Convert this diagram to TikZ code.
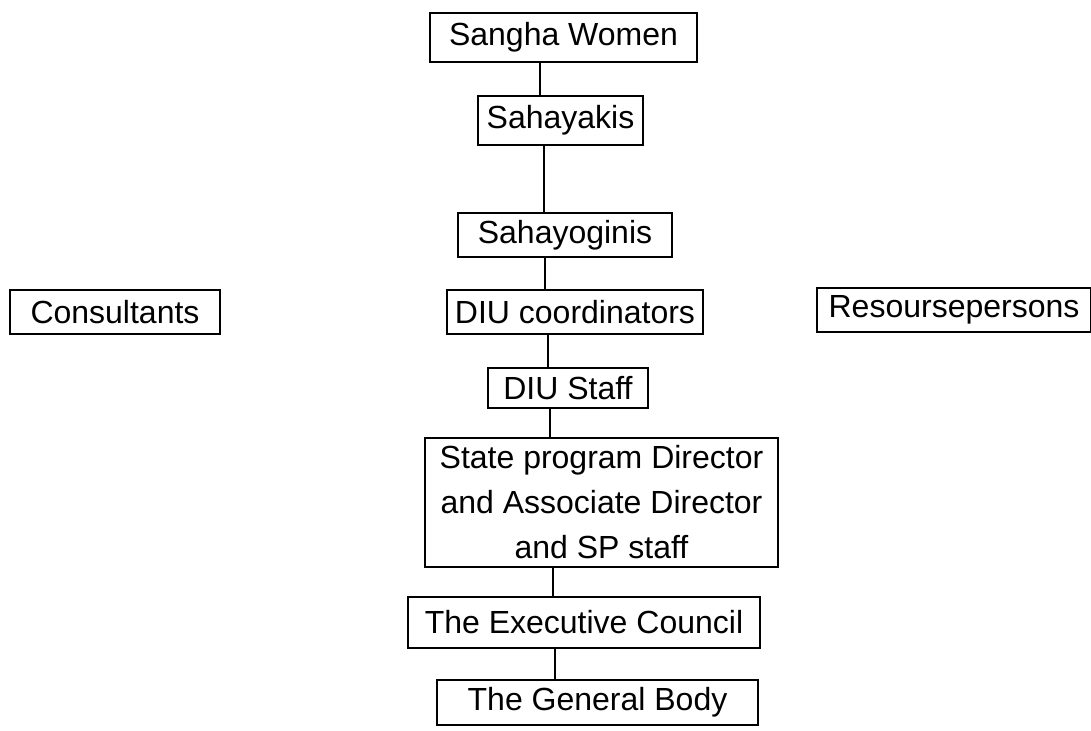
\documentclass[tikz,border=0pt]{standalone}
\usepackage{fontspec}
\setmainfont{Liberation Sans}
\newcommand{\unitfont}{\fontsize{16}{22.5}\selectfont}
\tikzset{
  unit/.style={draw, line width=1.2pt, inner sep=0pt, align=center, font=\unitfont},
  link/.style={line width=1.2pt}
}

\begin{document}
\begin{tikzpicture}[x=0.5pt,y=-0.5pt]
        \useasboundingbox (0,0) rectangle (1091,731);
        \node[unit, minimum width=133.5pt, minimum height=24.5pt] (sangha) at (563.5,37.5) {Sangha Women};
        \node[unit, minimum width=82.5pt, minimum height=24.5pt] (sahayakis) at (560.5,120.5) {Sahayakis};
        \node[unit, minimum width=107pt, minimum height=22pt] (sahayoginis) at (565,235) {Sahayoginis};
        \node[unit, minimum width=128pt, minimum height=22pt] (diucoord) at (575,312) {DIU coordinators};
        \node[unit, minimum width=105pt, minimum height=22pt] (consult) at (115,312) {Consultants};
        \node[unit, minimum width=137pt, minimum height=22pt] (resource) at (954,310) {Resoursepersons};
        \node[unit, minimum width=80pt, minimum height=20pt] (diustaff) at (568,388) {DIU Staff};
        \node[unit, minimum width=176.5pt, minimum height=64.5pt] (state) at (601.5,502.5) {State program Director\\and Associate Director\\and SP staff};
        \node[unit, minimum width=176pt, minimum height=25.5pt] (exec) at (584,622.5) {The Executive Council};
        \node[unit, minimum width=160.5pt, minimum height=22.5pt] (general) at (597.5,702.5) {The General Body};
        % vertical chain, a little left of the box centres as in the scan
        \foreach \a/\b/\dx in {sangha/sahayakis/-23.5, sahayakis/sahayoginis/-16.5, sahayoginis/diucoord/-20,
                diucoord/diustaff/-27, diustaff/state/-18, state/exec/-48.5, exec/general/-29}
            \draw[link] (\a.south) ++(\dx,0) coordinate (t) -- (t |- \b.north);
    \end{tikzpicture}
\end{document}
